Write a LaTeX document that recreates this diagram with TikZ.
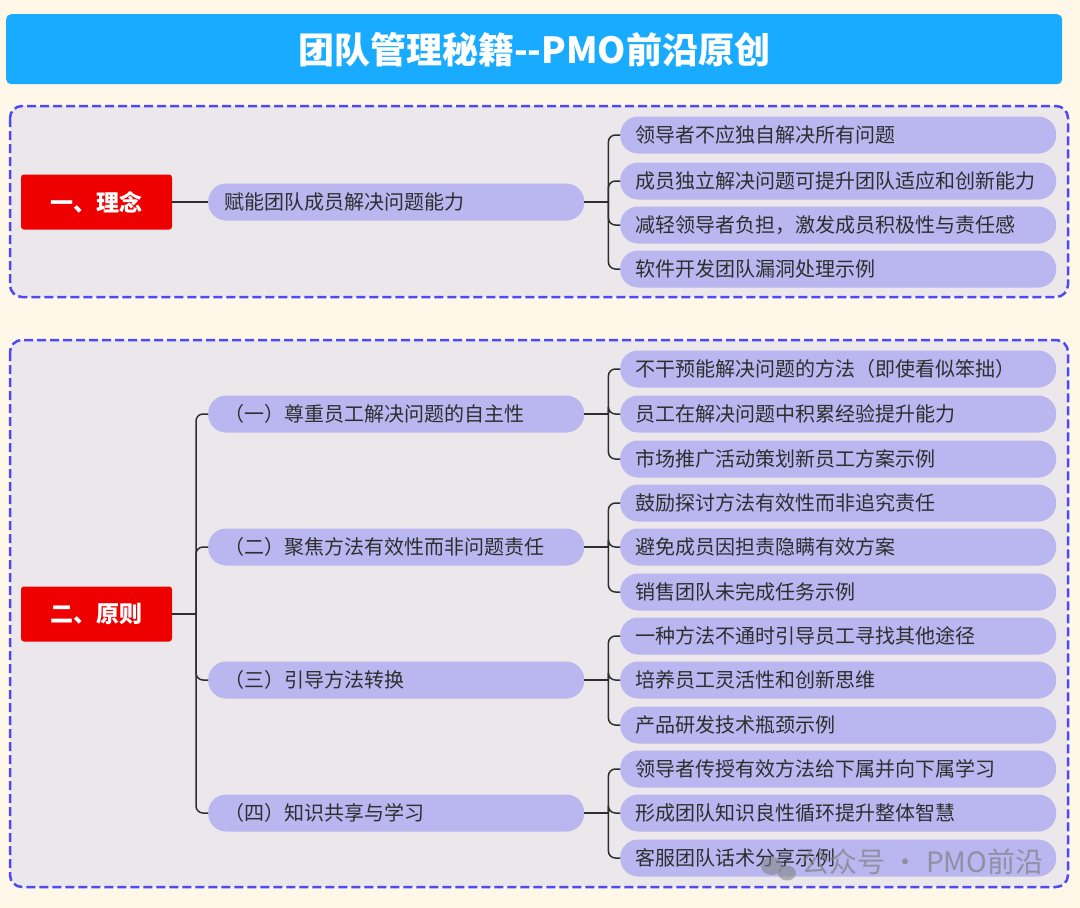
\documentclass[tikz,border=0pt]{standalone}
\usepackage{fontspec}
\setmainfont{Noto Sans CJK SC}
\usetikzlibrary{positioning}

\definecolor{pagebg}{HTML}{FFF8E8}
\definecolor{titleblue}{HTML}{19ABFF}
\definecolor{panelbg}{HTML}{EBE7EA}
\definecolor{dashblue}{HTML}{4B4BF5}
\definecolor{topicred}{HTML}{EE0000}
\definecolor{pilllav}{HTML}{B9B6F0}
\definecolor{textgray}{HTML}{2E2E2E}

\begin{document}
\begin{tikzpicture}[x=1pt,y=-1pt,
	topic/.style={fill=topicred, rounded corners=3pt, minimum width=151pt, minimum height=55pt,
		text=white, font=\fontsize{23}{23}\selectfont\bfseries},
	branch/.style={fill=pilllav, rounded corners=18pt, minimum height=37pt, inner xsep=16pt,
		text width=344pt, align=left, anchor=west, text=textgray, font=\fontsize{20}{20}\selectfont},
	leaf/.style={branch, inner xsep=15pt, text width=406pt},
	conn/.style={draw=textgray, line width=1.5pt, rounded corners=7pt},
	panel/.style={fill=panelbg, draw=dashblue, line width=2.5pt, dash pattern=on 9pt off 4pt, rounded corners=12pt}]
		
		% Page
		\fill[pagebg] (0,0) rectangle (1080,908);
		\useasboundingbox (0,0) rectangle (1080,908);
		
		% Title
		\node[fill=titleblue, rounded corners=5pt, minimum width=1056pt, minimum height=70pt, anchor=north west,
			text=white, font=\fontsize{36}{36}\selectfont\bfseries] (title) at (6,14) {团队管理秘籍{-}{-}PMO前沿原创};
		
		% Panels
		\draw[panel] (10,106) rectangle (1068,297);
		\draw[panel] (10,340) rectangle (1068,887);
		
		% Part 1
		\node[topic] (idea) at (96.5,202) {一、理念};
		\node[branch] (empower) at (208,202) {赋能团队成员解决问题能力};
		\foreach \n/\y/\t in {a/135/领导者不应独自解决所有问题,
			b/181/成员独立解决问题可提升团队适应和创新能力,
			c/225/减轻领导者负担，激发成员积极性与责任感,
			d/269/软件开发团队漏洞处理示例} {
			\node[leaf] (idea\n) at (620,\y) {\t};
		}
		\draw[conn] (idea) -- (empower);
		\coordinate (j0) at ([xshift=24pt]empower.east);
		\draw[conn] (empower.east) -- (j0);
		\foreach \n in {a,b,c,d} {
			\draw[conn] (j0) |- (idea\n.west);
		}
		
		% Part 2
		\node[topic] (rule) at (96.5,614) {二、原则};
		\coordinate (k0) at (196,614);
		\draw[conn] (rule) -- (k0);
		\foreach \g/\y/\t in {1/414/（一）尊重员工解决问题的自主性,
			2/547/（二）聚焦方法有效性而非问题责任,
			3/680/（三）引导方法转换,
			4/813/（四）知识共享与学习} {
			\node[branch] (rule\g) at (208,\y) {\t};
			\draw[conn] (k0) |- (rule\g.west);
		}
		\foreach \g/\n/\y/\t in {1/a/369/不干预能解决问题的方法（即使看似笨拙）,
			1/b/414/员工在解决问题中积累经验提升能力,
			1/c/459/市场推广活动策划新员工方案示例,
			2/a/503/鼓励探讨方法有效性而非追究责任,
			2/b/547/避免成员因担责隐瞒有效方案,
			2/c/592/销售团队未完成任务示例,
			3/a/636/一种方法不通时引导员工寻找其他途径,
			3/b/680/培养员工灵活性和创新思维,
			3/c/725/产品研发技术瓶颈示例,
			4/a/769/领导者传授有效方法给下属并向下属学习,
			4/b/813/形成团队知识良性循环提升整体智慧,
			4/c/858/客服团队话术分享示例} {
			\node[leaf] (rule\g\n) at (620,\y) {\t};
		}
		\foreach \g in {1,...,4} {
			\coordinate (j\g) at ([xshift=24pt]rule\g.east);
			\draw[conn] (rule\g.east) -- (j\g);
			\foreach \n in {a,b,c} {
				\draw[conn] (j\g) |- (rule\g\n.west);
			}
		}
		
		% Watermark
		\fill[gray, opacity=0.55] (772,866) ellipse (11pt and 9pt);
		\fill[gray, opacity=0.55] (787,873) ellipse (9pt and 7.5pt);
		\node[anchor=west, text=gray, opacity=0.7, font=\fontsize{28}{28}\selectfont] (mark) at (798,862) {公众号 · PMO前沿};
		
	\end{tikzpicture}
\end{document}
